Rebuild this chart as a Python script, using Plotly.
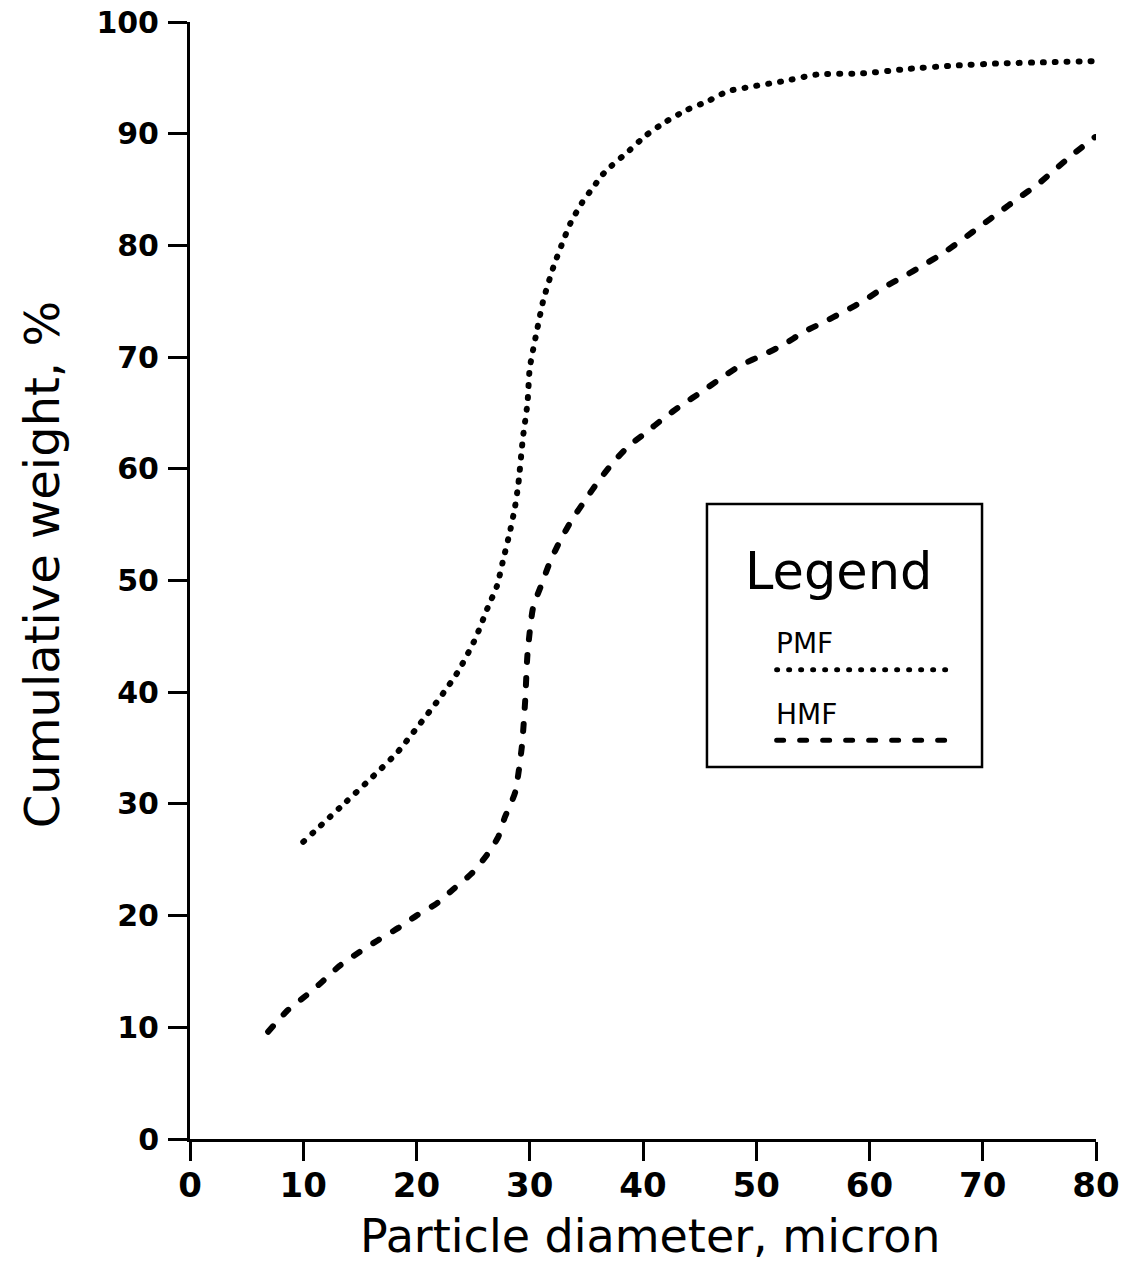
import plotly.graph_objects as go

# ---- data ----
pmf_x = [10.0, 13.8, 16.0, 18.3, 20.1, 22.0, 23.7, 25.2, 26.3, 27.1, 27.6, 28.3, 28.7, 29.0,
         29.4, 29.8, 30.0, 30.6, 31.2, 32.1, 32.8, 33.6, 34.6, 35.6, 36.4, 37.2, 38.8, 40.2,
         41.9, 43.8, 45.7, 47.5, 49.5, 52.4, 55.4, 59.4, 63.4, 67.5, 71.7, 75.8, 79.8]
pmf_y = [26.6, 30.2, 32.3, 34.6, 36.9, 39.4, 41.9, 44.8, 47.6, 49.5, 51.6, 54.6, 56.6, 58.7,
         62.8, 65.9, 69.0, 72.2, 75.1, 78.1, 80.0, 82.0, 83.8, 85.2, 86.3, 87.1, 88.5, 89.8,
         91.0, 92.1, 92.9, 93.8, 94.2, 94.7, 95.3, 95.4, 95.8, 96.1, 96.3, 96.4, 96.5]

hmf_x = [6.9, 8.6, 10.2, 11.7, 13.2, 14.9, 16.6, 18.4, 20.0, 21.8, 23.3, 24.9, 26.2, 27.2,
         27.8, 28.7, 29.3, 29.6, 29.8, 30.3, 31.1, 31.8, 32.7, 33.7, 34.9, 36.0, 37.3, 38.7,
         40.2, 41.8, 43.4, 45.2, 47.0, 48.7, 50.6, 52.4, 54.1, 55.9, 57.8, 59.6, 61.2, 63.0,
         64.7, 66.5, 68.3, 69.9, 71.5, 73.1, 74.9, 76.4, 77.9, 79.9]
hmf_y = [9.6, 11.5, 12.8, 14.1, 15.5, 16.7, 17.8, 18.9, 20.0, 21.1, 22.4, 23.8, 25.4, 27.0,
         28.8, 31.0, 35.1, 39.3, 43.4, 47.6, 49.8, 51.7, 53.6, 55.4, 57.2, 58.8, 60.5, 62.0,
         63.2, 64.5, 65.7, 66.9, 68.2, 69.3, 70.2, 71.1, 72.2, 73.1, 74.1, 75.1, 76.2, 77.2,
         78.2, 79.3, 80.6, 81.8, 83.0, 84.2, 85.5, 86.8, 88.1, 89.7]

x_ticks = [0, 10, 20, 30, 40, 50, 60, 70, 80]
y_ticks = [0, 10, 20, 30, 40, 50, 60, 70, 80, 90, 100]
series_names = ["PMF", "HMF"]

FONT = "DejaVu Sans"
DOT = "1px,11px"
DASH = "7px,16px"

fig = go.Figure()
fig.add_trace(go.Scatter(x=pmf_x, y=pmf_y, mode="lines", name=series_names[0],
                         line=dict(color="black", width=6, dash=DOT, shape="spline", smoothing=0.6)))
fig.add_trace(go.Scatter(x=hmf_x, y=hmf_y, mode="lines", name=series_names[1],
                         line=dict(color="black", width=6, dash=DASH, shape="spline", smoothing=0.6)))

axis_common = dict(showline=True, linecolor="black", linewidth=3, ticks="outside",
                   ticklen=19, tickwidth=3, tickcolor="black", showgrid=False,
                   zeroline=False, mirror=False, automargin=False)

fig.update_xaxes(range=[0, 80], tickvals=x_ticks, ticktext=[str(v) for v in x_ticks],
                 tickfont=dict(family=FONT, size=34, color="black", weight="bold"),
                 ticklabelstandoff=-5, **axis_common)
fig.update_yaxes(range=[0, 100], tickvals=y_ticks, ticktext=[str(v) for v in y_ticks],
                 tickfont=dict(family=FONT, size=30, color="black", weight="bold"),
                 ticklabelstandoff=3, **axis_common)

# axis titles
fig.add_annotation(text="Particle diameter, micron", xref="paper", yref="paper",
                   x=0.508, y=-0.1125, xanchor="center", yanchor="bottom", showarrow=False,
                   font=dict(family=FONT, size=46, color="black"))
fig.add_annotation(text="Cumulative weight, %", xref="paper", yref="paper",
                   x=-0.163, y=0.514, xanchor="center", yanchor="middle", showarrow=False,
                   textangle=-90, font=dict(family=FONT, size=48, color="black"))

# hand-drawn style legend box
fig.add_shape(type="rect", xref="paper", yref="paper", x0=0.5706, x1=0.8742, y0=0.333, y1=0.5685,
              line=dict(color="black", width=2.5), fillcolor="rgba(0,0,0,0)")
fig.add_annotation(text="Legend", xref="paper", yref="paper", x=0.716, y=0.508,
                   xanchor="center", yanchor="middle", showarrow=False,
                   font=dict(family=FONT, size=51, color="black"))
fig.add_annotation(text=series_names[0], xref="paper", yref="paper", x=0.645, y=0.427,
                   xanchor="left", yanchor="bottom", showarrow=False,
                   font=dict(family=FONT, size=28, color="black"))
fig.add_annotation(text=series_names[1], xref="paper", yref="paper", x=0.645, y=0.3635,
                   xanchor="left", yanchor="bottom", showarrow=False,
                   font=dict(family=FONT, size=28, color="black"))
fig.add_shape(type="line", xref="paper", yref="paper", x0=0.6475, x1=0.842, y0=0.420, y1=0.420,
              line=dict(color="black", width=5, dash=DOT))
fig.add_shape(type="line", xref="paper", yref="paper", x0=0.6475, x1=0.840, y0=0.357, y1=0.357,
              line=dict(color="black", width=5, dash=DASH))

fig.update_layout(width=1143, height=1266, showlegend=False,
                  margin=dict(l=190, r=47, t=22, b=127, autoexpand=False),
                  plot_bgcolor="white", paper_bgcolor="white",
                  font=dict(family=FONT, color="black"))

post = """
document.body.style.margin = '0';
document.body.style.padding = '0';
var gd = document.getElementById('{plot_id}');
function fixCaps(){
  gd.querySelectorAll('.scatterlayer .js-line, .shapelayer path').forEach(function(p){
    p.style.strokeLinecap = 'round';
  });
}
fixCaps();
gd.on('plotly_afterplot', fixCaps);
"""
fig.write_html("out.html", post_script=post, config={"displayModeBar": False})
